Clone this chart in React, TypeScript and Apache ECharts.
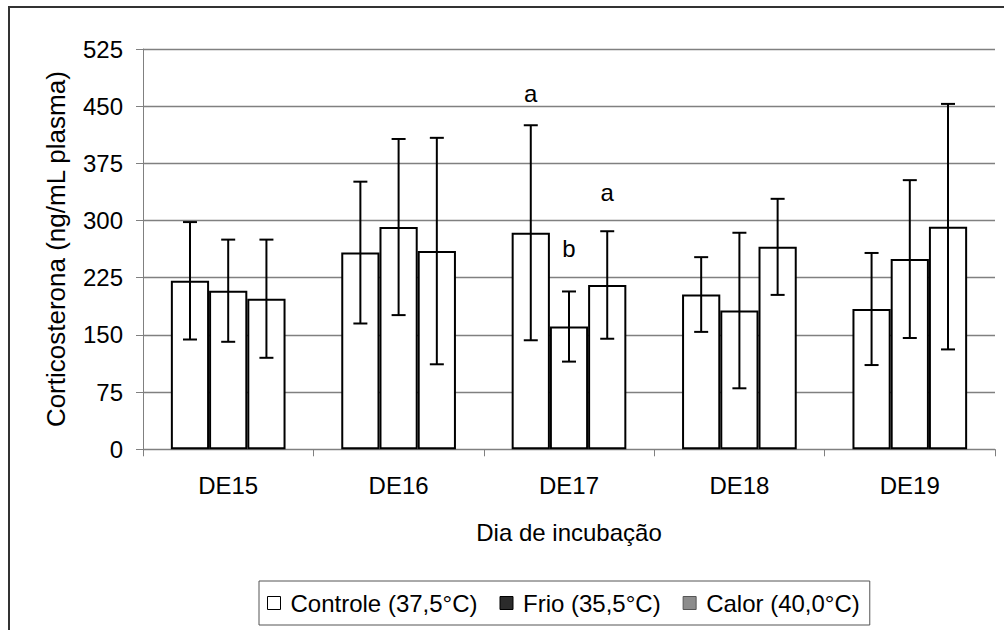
import React, { useEffect, useRef } from "react";
import * as echarts from "echarts";

const categories = ["DE15", "DE16", "DE17", "DE18", "DE19"];
const seriesNames = ["Controle (37,5°C)", "Frio (35,5°C)", "Calor (40,0°C)"];
const controleMean = [221, 258, 284, 203, 184];
const controleSd = [77, 93, 141, 49, 73.5];
const frioMean = [208, 291.5, 161, 182, 249.5];
const frioSd = [67, 115.5, 46, 102, 103.5];
const calorMean = [197.5, 260, 215.5, 265.5, 292];
const calorSd = [77.5, 148.5, 70.5, 63, 161];
const yTicks = { min: 0, max: 525, interval: 75 };
const letterCats = [2, 2, 2];
const letterGroups = [0, 1, 2];
const letterValues = [467, 264, 337];
const letterTexts = ["a", "b", "a"];

const FONT = "Liberation Sans, Arial, sans-serif";
const CAT_GAP = 0.327;

export default function App() {
  const ref = useRef<HTMLDivElement>(null);
  useEffect(() => {
    if (!ref.current) return;
    const chart = echarts.init(ref.current, undefined, { renderer: "svg" });
    const means = [controleMean, frioMean, calorMean];
    const sds = [controleSd, frioSd, calorSd];
    const errData: number[][] = [];
    means.forEach((m, g) =>
      m.forEach((v, i) => errData.push([i, v - sds[g][i], v + sds[g][i], g]))
    );
    const letterData = letterCats.map((c, i) => [c, letterValues[i], letterGroups[i]]);

    const barOffset = (api: any, cat: number, g: number) => {
      const band = api.size([1, 0])[0];
      const bw = (band * (1 - CAT_GAP)) / 3;
      return api.coord([cat, 0])[0] + (g - 1) * bw;
    };

    const option: any = {
      animation: false,
      backgroundColor: "#fff",
      textStyle: { fontFamily: FONT },
      grid: { left: 143, right: 9, top: 49, bottom: 180.7, containLabel: false },
      graphic: [
        {
          type: "rect",
          shape: { x: 9, y: 7, width: 1200, height: 800 },
          style: { fill: "none", stroke: "#333", lineWidth: 2 },
          silent: true,
        },
      ],
      legend: {
        left: 259,
        top: 581,
        orient: "horizontal",
        icon: "rect",
        itemWidth: 13,
        itemHeight: 13,
        itemGap: 22,
        padding: [10, 10, 10, 8],
        borderColor: "#555",
        borderWidth: 1,
        textStyle: { fontFamily: FONT, fontSize: 24, color: "#000", padding: [0, 0, 0, 5] },
        data: [
          { name: seriesNames[0], itemStyle: { color: "#fff", borderColor: "#000", borderWidth: 1 } },
          { name: seriesNames[1], itemStyle: { color: "#2b2b2b", borderColor: "#000", borderWidth: 1 } },
          { name: seriesNames[2], itemStyle: { color: "#8c8c8c", borderColor: "#555", borderWidth: 1 } },
        ],
      },
      xAxis: {
        type: "category",
        data: categories,
        name: "Dia de incubação",
        nameLocation: "middle",
        nameGap: 71,
        nameTextStyle: { fontFamily: FONT, fontSize: 24, color: "#000" },
        axisLine: { lineStyle: { color: "#808080", width: 1 } },
        axisTick: { show: true, length: 7, lineStyle: { color: "#808080" } },
        axisLabel: { fontFamily: FONT, fontSize: 24, color: "#000", margin: 24 },
        splitLine: { show: false },
      },
      yAxis: {
        type: "value",
        min: yTicks.min,
        max: yTicks.max,
        interval: yTicks.interval,
        name: "Corticosterona (ng/mL plasma)",
        nameLocation: "middle",
        nameRotate: 90,
        nameGap: 74,
        nameTextStyle: { fontFamily: FONT, fontSize: 26, color: "#000" },
        axisLine: { show: true, lineStyle: { color: "#808080", width: 1 } },
        axisTick: { show: true, length: 7, lineStyle: { color: "#808080" } },
        axisLabel: { fontFamily: FONT, fontSize: 24, color: "#000", margin: 20 },
        splitLine: { show: true, lineStyle: { color: "#808080", width: 1.3 } },
      },
      series: [
        ...means.map((m, g) => ({
          name: seriesNames[g],
          type: "bar",
          data: m,
          barGap: "0%",
          barCategoryGap: CAT_GAP * 100 + "%",
          itemStyle: { color: "#fff", borderColor: "#000", borderWidth: 2 },
          z: 2,
        })),
        {
          type: "custom",
          name: "erros",
          data: errData,
          encode: { x: 0, y: [1, 2] },
          z: 5,
          renderItem: (params: any, api: any) => {
            const cat = api.value(0);
            const g = api.value(3);
            const x = barOffset(api, cat, g);
            const yLo = api.coord([cat, api.value(1)])[1];
            const yHi = api.coord([cat, api.value(2)])[1];
            const cap = 7;
            const style = { stroke: "#000", lineWidth: 2 };
            return {
              type: "group",
              children: [
                { type: "line", shape: { x1: x, y1: yLo, x2: x, y2: yHi }, style },
                { type: "line", shape: { x1: x - cap, y1: yHi, x2: x + cap, y2: yHi }, style },
                { type: "line", shape: { x1: x - cap, y1: yLo, x2: x + cap, y2: yLo }, style },
              ],
            };
          },
        },
        {
          type: "custom",
          name: "letras",
          data: letterData,
          encode: { x: 0, y: 1 },
          z: 6,
          renderItem: (params: any, api: any) => {
            const cat = api.value(0);
            const g = api.value(2);
            const x = barOffset(api, cat, g);
            const y = api.coord([cat, api.value(1)])[1];
            return {
              type: "text",
              style: {
                x,
                y,
                text: letterTexts[params.dataIndex],
                fontFamily: FONT,
                fontSize: 24,
                fill: "#000",
                align: "center",
                verticalAlign: "middle",
              },
            };
          },
        },
      ],
    };
    chart.setOption(option);
    return () => chart.dispose();
  }, []);
  return (
    <div
      ref={ref}
      style={{ position: "absolute", left: 0, top: 0, width: 1004, height: 630 }}
    />
  );
}
